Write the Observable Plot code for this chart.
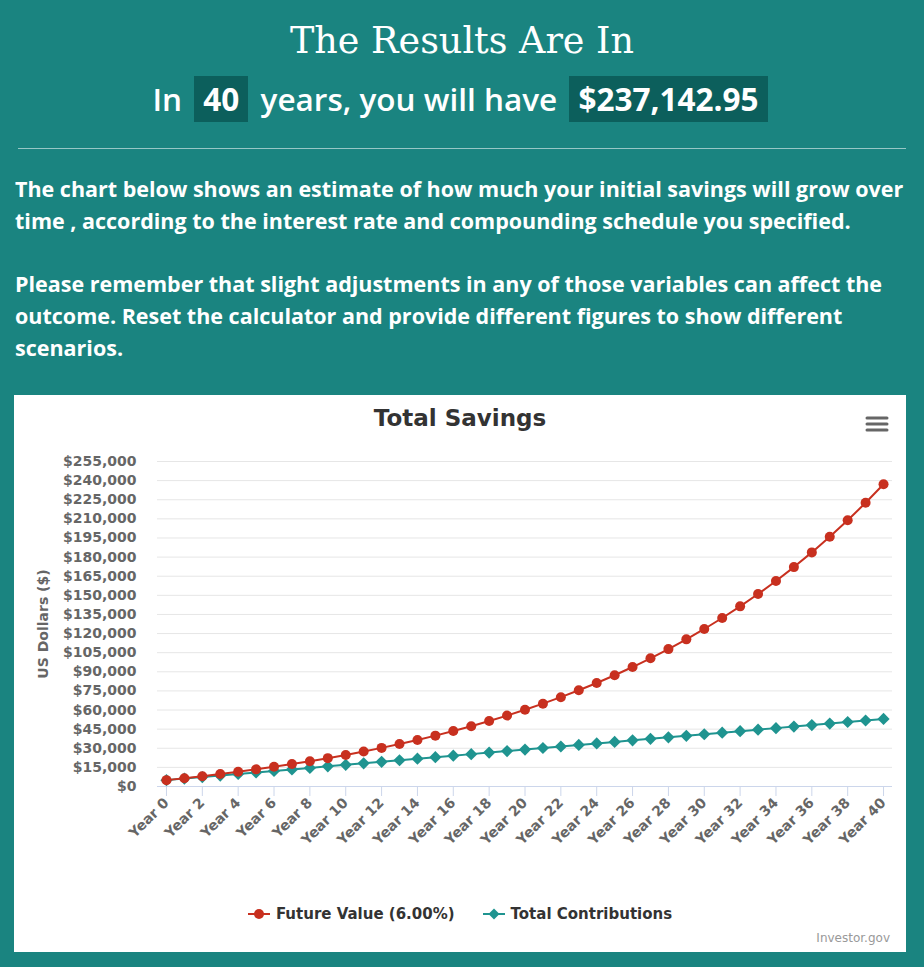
<!DOCTYPE html>
<html>
<head>
<meta charset="utf-8">
<script src="https://cdn.jsdelivr.net/npm/d3@7"></script>
<script src="https://cdn.jsdelivr.net/npm/@observablehq/plot@0.6"></script>
<style>
  html, body { margin: 0; padding: 0; }
  body { width: 924px; height: 967px; background: #1a8480; position: relative; overflow: hidden; font-family: "Open Sans", sans-serif; color: #fff; }
  .abs { position: absolute; }
  #title { top: 18px; left: 0; width: 924px; text-align: center; font-family: "DejaVu Serif", serif; font-size: 36.5px; line-height: 46px; }
  #sub { top: 76px; left: 0; width: 924px; text-align: center; font-size: 31.5px; font-weight: 600; line-height: 46px; white-space: nowrap; }
  #sub .box { display: inline-block; background: #0c5f5c; padding: 0 9px; font-weight: 700; margin: 0 4px; }
  #hr { top: 148px; left: 18px; width: 888px; height: 1px; background: rgba(255,255,255,0.55); }
  .para { left: 15px; font-size: 21.5px; font-weight: 700; line-height: 32px; white-space: nowrap; }
  #p1 { top: 173px; }
  #p2 { top: 268px; }
  #card { left: 14px; top: 395px; width: 892px; height: 557px; background: #fff; }
  #ctitle { top: 7px; left: 0; width: 892px; text-align: center; font-family: "DejaVu Sans", sans-serif; font-weight: bold; font-size: 23px; color: #333; line-height: 32px; }
  #menu { left: 851px; top: 21px; }
  #chart { left: 0; top: 45px; }
  #legend { top: 508px; left: 0; width: 892px; display: flex; justify-content: center; align-items: center; gap: 0; font-family: "DejaVu Sans", sans-serif; font-weight: bold; font-size: 15px; color: #333; line-height: 22px; }
  #legend .item { display: flex; align-items: center; margin: 0 14px; }
  #legend svg { margin-right: 6px; }
  #credit { right: 16px; top: 536px; font-family: "DejaVu Sans", sans-serif; font-size: 12px; color: #999; }
</style>
</head>
<body>
<div id="title" class="abs">The Results Are In</div>
<div id="sub" class="abs">In <span class="box" id="yrs"></span> years, you will have <span class="box" id="total"></span></div>
<div id="hr" class="abs"></div>
<div id="p1" class="abs para">The chart below shows an estimate of how much your initial savings will grow over<br>time , according to the interest rate and compounding schedule you specified.</div>
<div id="p2" class="abs para">Please remember that slight adjustments in any of those variables can affect the<br>outcome. Reset the calculator and provide different figures to show different<br>scenarios.</div>
<div id="card" class="abs">
  <div id="ctitle" class="abs">Total Savings</div>
  <svg id="menu" class="abs" width="24" height="18"><g stroke="#666" stroke-width="3" stroke-linecap="round"><line x1="2" x2="22" y1="2" y2="2"/><line x1="2" x2="22" y1="8" y2="8"/><line x1="2" x2="22" y1="14" y2="14"/></g></svg>
  <div id="chart" class="abs"></div>
  <div id="legend" class="abs"></div>
  <div id="credit" class="abs">Investor.gov</div>
</div>
<script>
// ---- Data ----
const years = [0,1,2,3,4,5,6,7,8,9,10,11,12,13,14,15,16,17,18,19,20,21,22,23,24,25,26,27,28,29,30,31,32,33,34,35,36,37,38,39,40];
const futureValue = [5000,6500,8090,9775,11562,13456,15463,17591,19846,22237,24771,27457,30305,33323,36523,39914,43509,47319,51358,55640,60178,64989,70088,75494,81223,87297,93735,100559,107792,115460,123587,132203,141335,151015,161276,172152,183681,195902,208856,222588,237143];
const totalContributions = [5000,6200,7400,8600,9800,11000,12200,13400,14600,15800,17000,18200,19400,20600,21800,23000,24200,25400,26600,27800,29000,30200,31400,32600,33800,35000,36200,37400,38600,39800,41000,42200,43400,44600,45800,47000,48200,49400,50600,51800,53000];
const seriesNames = ["Future Value (6.00%)", "Total Contributions"];
const seriesColors = ["#c8301f", "#1f9490"];
const yTicks = [0,15000,30000,45000,60000,75000,90000,105000,120000,135000,150000,165000,180000,195000,210000,225000,240000,255000];
const xTicks = [0,2,4,6,8,10,12,14,16,18,20,22,24,26,28,30,32,34,36,38,40];
const headlineYears = "40";
const headlineTotal = "$237,142.95";

document.getElementById("yrs").textContent = headlineYears;
document.getElementById("total").textContent = headlineTotal;

const fv = years.map((y, i) => ({year: y, value: futureValue[i]}));
const tc = years.map((y, i) => ({year: y, value: totalContributions[i]}));

const chart = Plot.plot({
  width: 892,
  height: 416,
  marginLeft: 143,
  marginRight: 14,
  marginTop: 21,
  marginBottom: 70,
  x: {domain: [-0.5, 40.5]},
  y: {domain: [0, 255000]},
  style: {fontFamily: "DejaVu Sans, sans-serif", fontSize: "14px", fontWeight: "bold", color: "#666", background: "transparent", overflow: "visible"},
  marks: [
    Plot.gridY(yTicks, {stroke: "#e6e6e6", strokeOpacity: 1}),
    Plot.axisY(yTicks, {tickSize: 0, tickPadding: 21, tickFormat: d3.format("$,.0f"), label: "US Dollars ($)", labelAnchor: "center", labelArrow: "none", labelOffset: 119}),
    Plot.ruleY([0], {stroke: "#ccd6eb"}),
    Plot.axisX(xTicks, {tickSize: 10, stroke: "#ccd6eb", strokeOpacity: 1, fill: "#666", tickRotate: -45, tickPadding: 4, tickFormat: d => "Year " + d, label: null}),
    Plot.line(tc, {x: "year", y: "value", stroke: seriesColors[1], strokeWidth: 2}),
    Plot.dot(tc, {x: "year", y: "value", fill: seriesColors[1], symbol: "diamond2", r: 5.5}),
    Plot.line(fv, {x: "year", y: "value", stroke: seriesColors[0], strokeWidth: 2}),
    Plot.dot(fv, {x: "year", y: "value", fill: seriesColors[0], r: 5})
  ]
});
document.getElementById("chart").appendChild(chart);

// legend
const legend = document.getElementById("legend");
seriesNames.forEach((name, i) => {
  const item = document.createElement("div");
  item.className = "item";
  const marker = i === 0
    ? `<circle cx="11" cy="8" r="5" fill="${seriesColors[i]}"/>`
    : `<path d="M11,2.5L16.5,8L11,13.5L5.5,8Z" fill="${seriesColors[i]}"/>`;
  item.innerHTML = `<svg width="22" height="16"><line x1="0" x2="22" y1="8" y2="8" stroke="${seriesColors[i]}" stroke-width="2"/>${marker}</svg><span>${name}</span>`;
  legend.appendChild(item);
});
</script>
</body>
</html>
